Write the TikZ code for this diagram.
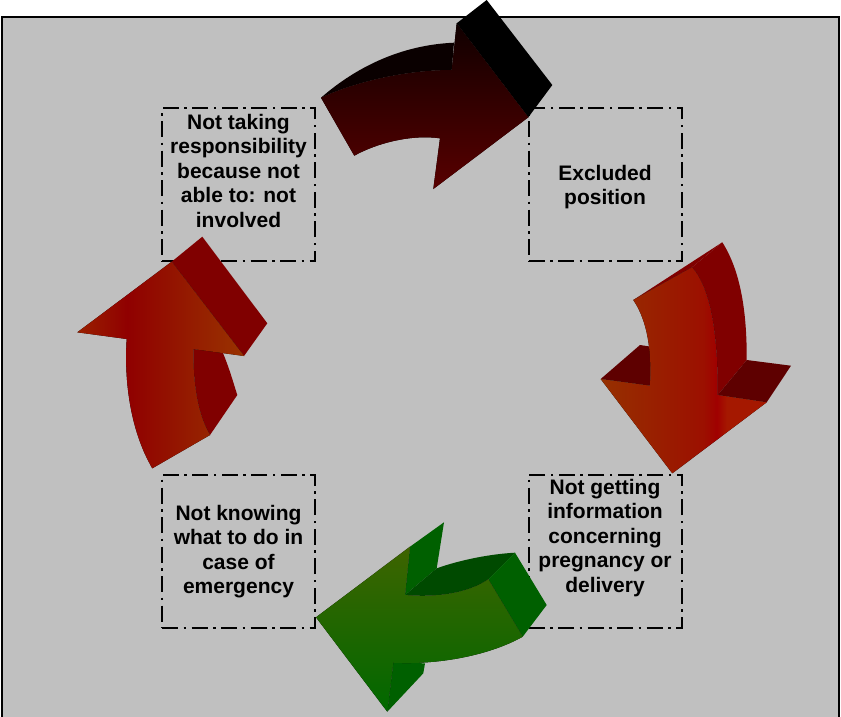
\documentclass[tikz,border=0pt]{standalone}
\usepackage{fontspec}
\setmainfont{Liberation Sans}

% panel and box colours
\definecolor{panelgrey}{HTML}{C0C0C0}
% top (dark) arrow
\definecolor{topfrontA}{HTML}{100000}
\definecolor{topfrontB}{HTML}{580000}
\definecolor{topface}{HTML}{0A0000}
% red arrows
\definecolor{redside}{HTML}{800000}
\definecolor{redback}{HTML}{5E0000}
\definecolor{rfA}{HTML}{963000}
\definecolor{rfB}{HTML}{9C1000}
\definecolor{rfC}{HTML}{A00000}
\definecolor{rfD}{HTML}{A51800}
\definecolor{lfA}{HTML}{9A2000}
\definecolor{lfB}{HTML}{900000}
\definecolor{lfC}{HTML}{993300}
% green arrow
\definecolor{grTop}{HTML}{3E6400}
\definecolor{grBot}{HTML}{006800}
\definecolor{grSide}{HTML}{006000}
\definecolor{grTopFace}{HTML}{004A00}

% front-face shadings of the two red arrows (path box maps to 25bp..75bp)
\pgfdeclarehorizontalshading{rightfront}{100bp}{color(0bp)=(rfA); color(25bp)=(rfA); color(56bp)=(rfB); color(60bp)=(rfC); color(63bp)=(rfD); color(75bp)=(rfD); color(100bp)=(rfD)}
\pgfdeclarehorizontalshading{leftfront}{100bp}{color(0bp)=(lfA); color(25bp)=(lfA); color(40bp)=(lfB); color(75bp)=(lfC); color(100bp)=(lfC)}

\begin{document}
\begin{tikzpicture}[x=1pt,y=-1pt,
  cyclebox/.style={draw=black, line width=2pt,
    dash pattern=on 16pt off 5.5pt on 2.5pt off 5.5pt,
    minimum width=153pt, minimum height=153pt, inner sep=0pt},
  cycletext/.style={align=center, inner sep=0pt,
    font=\fontsize{21}{24.5}\selectfont\bfseries},
]
\useasboundingbox (0,0) rectangle (841,716);
\fill[white] (0,0) rectangle (841,716);
\draw[fill=panelgrey, line width=1.8pt] (2,17) rectangle (839,730);

% ---- the four dash-dotted boxes ----
\node[cyclebox] (boxTL) at (238.5,184.5) {};
\node[cyclebox] (boxTR) at (605,184.5) {};
\node[cyclebox] (boxBL) at (238.5,551) {};
\node[cyclebox] (boxBR) at (605,551) {};

\node[cycletext] (txtTL) at (238.5,170.5) {Not taking\\responsibility\\because not\\able to: not\\involved};
\node[cycletext] (txtTR) at (605,187) {Excluded\\position};
\node[cycletext] (txtBL) at (238.5,551.5) {Not knowing\\what to do in\\case of\\emergency};
\node[cycletext] (txtBR) at (605,538) {Not getting\\information\\concerning\\pregnancy or\\delivery};

% ---- top arrow (dark red, pointing right) ----
\fill[topface] (321,97.7) .. controls (355,68) and (400,45) .. (454,42.7)
  -- (451.7,70) .. controls (410,70) and (360,80) .. (321,97.7) -- cycle;
\fill[black] (456.7,23.3) -- (486.7,0) -- (552.3,85) -- (528.3,117.3) -- cycle;
\fill[top color=topfrontA, bottom color=topfrontB]
  (321,97.7) -- (354.3,155.7)
  .. controls (375,144) and (410,134) .. (440,138.3)
  -- (433.3,189) -- (528.3,117.3) -- (456.7,23.3) -- (451.7,70)
  .. controls (410,70) and (360,80) .. (321,97.7) -- cycle;

% ---- right arrow (red, pointing down) ----
\fill[redside] (692,267.3) -- (722.3,242.3)
  .. controls (740,270) and (747,310) .. (746.7,360)
  -- (717.7,395) .. controls (718,340) and (712,290) .. (692,267.3) -- cycle;
\fill[redside] (633.3,300) -- (722.3,242.3) -- (692,267.3) -- cycle;
\fill[redback] (717.7,395) -- (746.7,360) -- (791,365.7) -- (766.7,402.3) -- cycle;
\fill[redback] (600.7,379) -- (640,345) -- (651,346.7) -- (650,385.7) -- cycle;
\fill[shading=rightfront]
  (633.3,300) -- (692,267.3)
  .. controls (712,290) and (718,340) .. (717.7,395)
  -- (766.7,402.3) -- (672.3,473.3) -- (600.7,379) -- (650,385.7)
  .. controls (652,350) and (647,320) .. (633.3,300) -- cycle;

% ---- bottom arrow (green, pointing left) ----
\fill[grSide] (410,546.7) -- (444,522.3) -- (436.7,568.3) -- (405,595) -- cycle;
\fill[grTopFace] (405,595) -- (436.7,568.3)
  .. controls (460,560) and (490,554) .. (515,552.7)
  -- (488.3,579.3) .. controls (470,592) and (440,598) .. (405,595) -- cycle;
\fill[grSide] (488.3,579.3) -- (515,552.7) -- (546.7,605) -- (522.7,636.7) -- cycle;
\fill[grSide] (387.3,711.7) -- (423.3,673.3) -- (425,663.3) -- (393.3,662.7) -- cycle;
\fill[top color=grTop, bottom color=grBot]
  (316,617.3) -- (410,546.7) -- (405,595)
  .. controls (440,598) and (470,592) .. (488.3,579.3)
  -- (522.7,636.7) .. controls (490,655) and (440,665) .. (393.3,662.7)
  -- (387.3,711.7) -- cycle;

% ---- left arrow (red, pointing up) ----
\fill[redside] (171.7,261.7) -- (202.3,236.7) -- (267.3,323.3) -- (244,356) -- cycle;
\fill[redside] (193.3,349) -- (222.7,352.3) .. controls (230,370) and (234,385) .. (237.3,395)
  -- (210,435) .. controls (198,415) and (193,385) .. (193.3,349) -- cycle;
\fill[shading=leftfront]
  (77.3,332.3) -- (171.7,261.7) -- (244,356) -- (193.3,349)
  .. controls (193,385) and (198,415) .. (210,435)
  -- (152.3,468.3) .. controls (130,430) and (124,380) .. (126.7,339)
  -- cycle;
\end{tikzpicture}
\end{document}
